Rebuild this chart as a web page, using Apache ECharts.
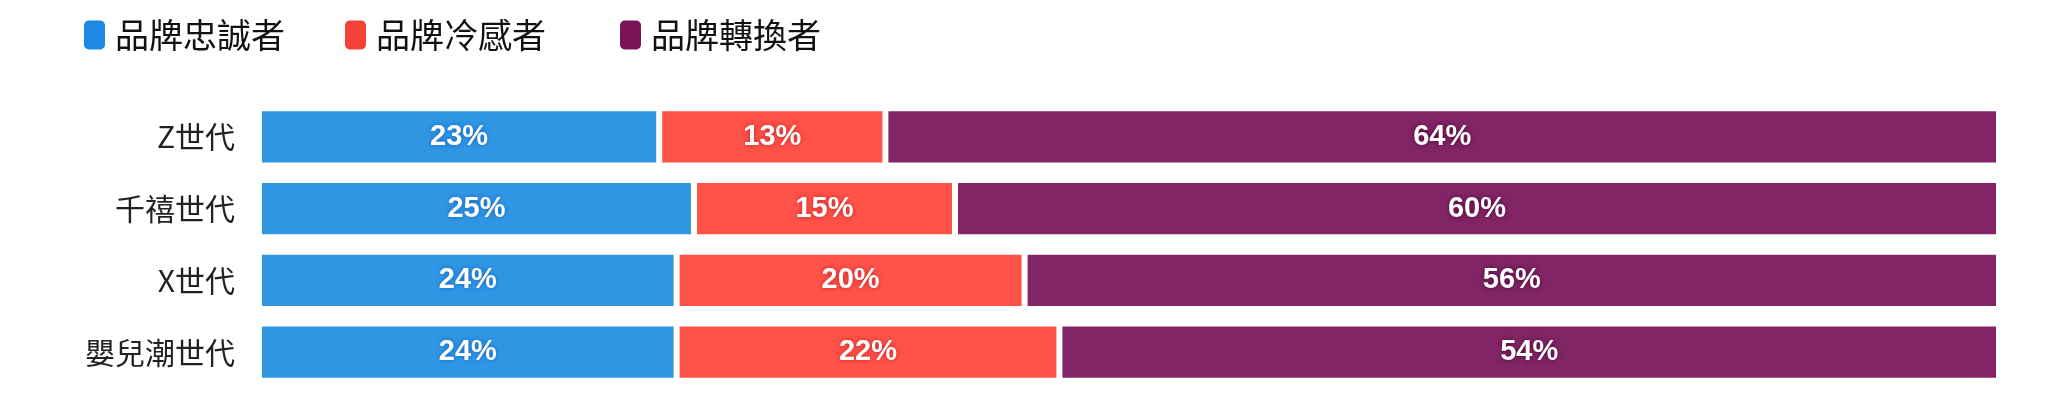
<!DOCTYPE html>
<html>
<head>
<meta charset="utf-8">
<script src="https://cdn.jsdelivr.net/npm/echarts@6/dist/echarts.min.js"></script>
<style>
  html, body { margin: 0; padding: 0; background: #fff; }
  #chart { width: 2048px; height: 397px; }
</style>
</head>
<body>
<div id="chart"></div>
<script>
const generations = ['Z世代', '千禧世代', 'X世代', '嬰兒潮世代'];
const seriesNames = ['品牌忠誠者', '品牌冷感者', '品牌轉換者'];
const loyal = [23, 25, 24, 24];
const indifferent = [13, 15, 20, 22];
const switchers = [64, 60, 56, 54];

const barColors = ['#3096e4', '#ff5249', '#822566'];
const legendColors = ['#1e88e5', '#f44336', '#7b1359'];
const glowColors = ['#1565c0', '#c62828', '#4a0a35'];
const legendLefts = [82, 343, 618];

const myChart = echarts.init(document.getElementById('chart'));

const makeSeries = (name, data, i) => ({
	name: name,
	type: 'bar',
	stack: 'total',
	data: data,
	barCategoryGap: '20%',
	itemStyle: {
		color: barColors[i],
		borderColor: '#fff',
		borderWidth: 3,
	},
	label: {
		show: true,
		position: 'inside',
		formatter: '{c}%',
		color: '#fff',
		fontFamily: 'Liberation Sans, Arial, sans-serif',
		fontWeight: 'bold',
		fontSize: 29,
		textShadowColor: glowColors[i],
		textShadowBlur: 5,
	},
});

const makeLegend = (i) => ({
	left: legendLefts[i],
	top: 18,
	padding: 0,
	icon: 'roundRect',
	itemWidth: 23,
	itemHeight: 31,
	textStyle: {
		fontFamily: 'Noto Sans CJK TC, sans-serif',
		fontSize: 34,
		color: '#111',
		padding: [0, 0, 0, 4],
	},
	data: [{ name: seriesNames[i], itemStyle: { color: legendColors[i] } }],
});

const option = {
	animation: false,
	legend: [makeLegend(0), makeLegend(1), makeLegend(2)],
	grid: {
		left: 259,
		right: 49,
		top: 101,
		bottom: 9,
		containLabel: false,
	},
	xAxis: {
		type: 'value',
		min: 0,
		max: 100,
		show: false,
	},
	yAxis: {
		type: 'category',
		inverse: true,
		data: generations,
		axisLine: { show: false },
		axisTick: { show: false },
		axisLabel: {
			margin: 24,
			fontFamily: 'Noto Sans CJK TC, sans-serif',
			fontSize: 30,
			color: '#222',
		},
	},
	series: [
		makeSeries(seriesNames[0], loyal, 0),
		makeSeries(seriesNames[1], indifferent, 1),
		makeSeries(seriesNames[2], switchers, 2),
	],
};

myChart.setOption(option, true);
window.addEventListener('resize', () => {
	myChart.resize();
});
</script>
</body>
</html>
